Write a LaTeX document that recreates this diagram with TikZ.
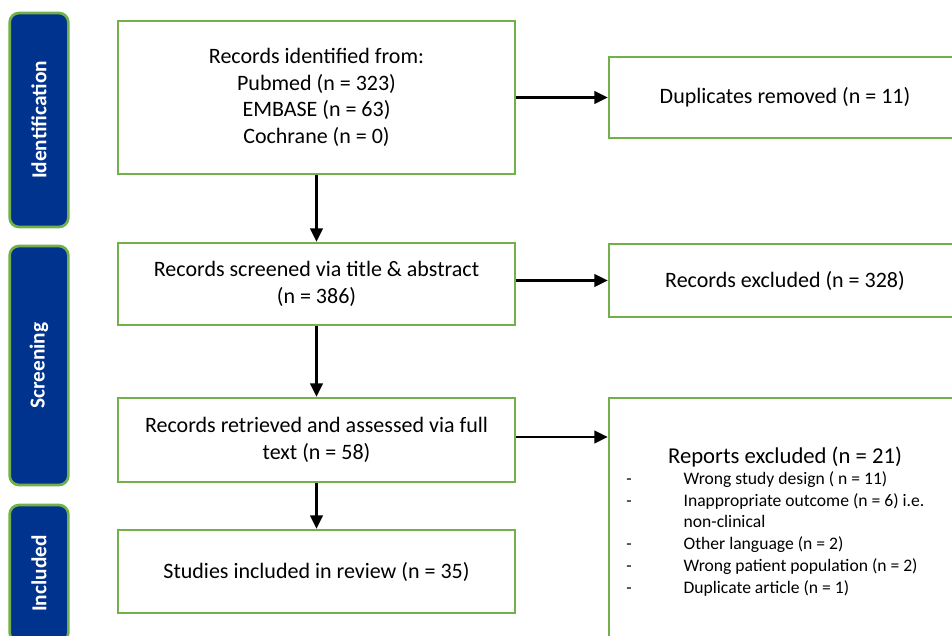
\documentclass[tikz,border=0pt]{standalone}
\usepackage{fontspec}
\setmainfont{Carlito}
\usetikzlibrary{positioning,arrows.meta}
\definecolor{stageBlue}{HTML}{00338D}
\definecolor{frameGreen}{HTML}{72B04A}

\begin{document}
\begin{tikzpicture}[
  x=0.75pt, y=-0.75pt,
  every node/.style={font=\fontsize{16.5}{20}\selectfont, inner sep=0pt},
  stage/.style={
    rectangle, rounded corners=7pt, draw=frameGreen, line width=2pt,
    fill=stageBlue, text=white, rotate=90, minimum height=44pt,
    font=\fontsize{16}{18}\selectfont\bfseries,
  },
  flow/.style={rectangle, draw=frameGreen, line width=2pt, fill=white, minimum width=297.75pt, align=center},
  side/.style={rectangle, draw=frameGreen, line width=2pt, fill=white, minimum width=264pt, align=center},
  arr/.style ={-{Triangle[length=10pt,width=9.5pt]}, line width=1.8pt, black},
]

% ── Page frame (pixel grid, y downwards) ──
\useasboundingbox (0,0) rectangle (952,635);
\clip (0,0) rectangle (952,635);

% ── Column x-coordinates ──
\def\xStage{39}
\def\xFlow{316.5}
\def\xSide{785}

% ── Stage bars (left) ──
\node[stage, minimum width=160.5pt]  (identification) at (\xStage, 120)   {Identification};
\node[stage, minimum width=179.25pt] (screening)      at (\xStage, 365.5) {Screening};
\node[stage, minimum width=102.75pt] (included)       at (\xStage, 573.5) {Included};

% ── Main flow ──
\node[flow, minimum height=114.75pt] (identified) at (\xFlow, 97.5)
  {Records identified from:\\Pubmed (n = 323)\\EMBASE (n = 63)\\Cochrane (n = 0)};
\node[flow, minimum height=61.5pt]   (screened)   at (\xFlow, 284)
  {Records screened via title \& abstract\\(n = 386)};
\node[flow, minimum height=63pt]     (retrieved)  at (\xFlow, 440)
  {Records retrieved and assessed via full\\text (n = 58)};
\node[flow, minimum height=62.25pt]  (studies)    at (\xFlow, 571.5)
  {Studies included in review (n = 35)};

% ── Exclusions (right) ──
\node[side, minimum height=60.75pt] (duplicates) at (\xSide, 97.5)  {Duplicates removed (n = 11)};
\node[side, minimum height=54.75pt] (excluded)   at (\xSide, 280.5) {Records excluded (n = 328)};
\node[side, minimum height=189pt]   (reports)    at (\xSide, 524)   {};
\node[font=\fontsize{17}{19}\selectfont] (reptitle) at (\xSide, 457) {Reports excluded (n = 21)};
\node[anchor=north west, align=left, font=\fontsize{13.2}{16.3}\selectfont] (replist) at (626, 469) {%
  \begin{tabular}{@{}p{43pt}@{}l@{}}
  - & Wrong study design ( n = 11)\\
  - & Inappropriate outcome (n = 6) i.e.\\
    & non-clinical\\
  - & Other language (n = 2)\\
  - & Wrong patient population (n = 2)\\
  - & Duplicate article (n = 1)
  \end{tabular}};

% ── Arrows: down the flow ──
\draw[arr] (identified.south) -- (screened.north);
\draw[arr] (screened.south)   -- (retrieved.north);
\draw[arr] (retrieved.south)  -- (studies.north);

% ── Arrows: out to the exclusions ──
\draw[arr] (identified.east) -- (duplicates.west);
\draw[arr] (excluded.west -| screened.east) -- (excluded.west);
\draw[arr] ([yshift=2.25pt]retrieved.east) -- ([yshift=2.25pt]retrieved.east -| reports.west);

\end{tikzpicture}
\end{document}
